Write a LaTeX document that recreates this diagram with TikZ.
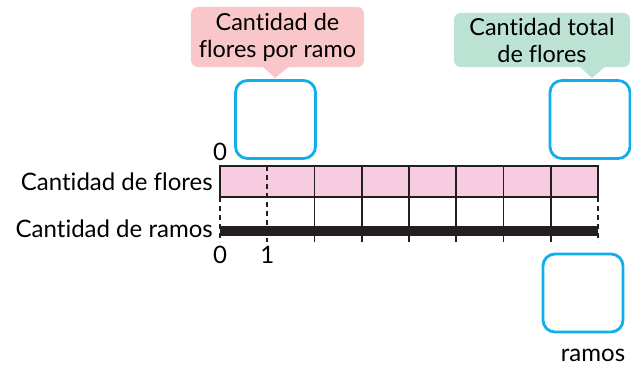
\documentclass[tikz,border=0pt]{standalone}
\usepackage{fontspec}
\setmainfont{Lato}[Ligatures=NoCommon]
\definecolor{boxblue}{HTML}{10AEEA}
\definecolor{barpink}{HTML}{F8CCE0}
\definecolor{notepink}{HTML}{F9C6C9}
\definecolor{notegreen}{HTML}{BCE2D3}
\definecolor{barblack}{HTML}{231F20}
\begin{document}
\begin{tikzpicture}[x=0.03cm,y=-0.03cm,
  answerbox/.style={draw=boxblue,line width=2.4pt,rounded corners=0.36cm,minimum width=2.4cm,minimum height=2.34cm},
  note/.style={rounded corners=0.2cm,align=center,inner sep=0pt,font=\fontsize{20}{23}\selectfont},
  label/.style={font=\fontsize{20.5}{22}\selectfont,inner sep=0pt},
  tick/.style={draw=barblack,line width=1.6pt},
  dashtick/.style={tick,dash pattern=on 0.15cm off 0.12cm}]
\useasboundingbox (0,0) rectangle (631,365);
\node[note,fill=notepink,minimum width=5.19cm,minimum height=1.8cm] (perramo) at (277.5,37) {Cantidad de\\flores por ramo};
\fill[notepink] (262,66) -- (275,78) -- (290,66) -- cycle;
\node[note,fill=notegreen,minimum width=5.28cm,minimum height=1.62cm] (total) at (542,40) {Cantidad total\\de flores};
\fill[notegreen] (579,66) -- (592,78) -- (606,66) -- cycle;
\node[answerbox] (boxramo) at (275.5,119.5) {};
\node[answerbox] (boxtotal) at (590,119.5) {};
\node[answerbox] (boxramos) at (583,293) {};
\node[label] (ramoslabel) at (593,355) {ramos};
\node[label,anchor=base east] (flores) at (213,190.5) {Cantidad de flores};
\node[label,anchor=base east] (ramos) at (213,237.5) {Cantidad de ramos};
\node[label,anchor=base] (zerotop) at (220,160) {0};
\node[label,anchor=base] (zero) at (220,263) {0};
\node[label,anchor=base] (one) at (267.25,263) {1};
\filldraw[fill=barpink,draw=barblack,line width=1.6pt] (220,166) rectangle (598,197);
\foreach \i in {2,...,7}
  \draw[tick] (220+\i*47.25,166) -- (220+\i*47.25,242);
\draw[dashtick] (267.25,166) -- (267.25,242);
\draw[dashtick] (220,197) -- (220,242);
\draw[dashtick] (598,197) -- (598,242);
\fill[barblack] (220,226) rectangle (598,236);
\end{tikzpicture}
\end{document}
